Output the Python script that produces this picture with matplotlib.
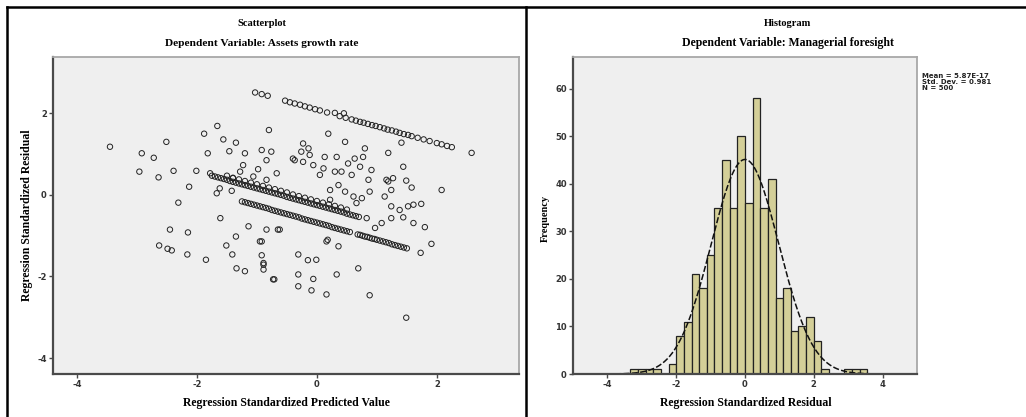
import numpy as np
import matplotlib.pyplot as plt
from matplotlib.lines import Line2D

plt.rcParams['axes.unicode_minus'] = False

# ---- scatterplot data ----
upper_x = [-1.03, -0.92, -0.82, -0.53, -0.45, -0.37, -0.28, -0.20, -0.12, -0.03, 0.05, 0.17,
           0.30, 0.38, 0.45, 0.48, 0.58, 0.65, 0.72, 0.78, 0.85, 0.92, 0.98, 1.05, 1.12, 1.18,
           1.25, 1.32, 1.38, 1.45, 1.52, 1.58, 1.68, 1.78, 1.88, 2.00, 2.08, 2.17, 2.25, 2.58]
upper_y = [2.51, 2.47, 2.43, 2.31, 2.27, 2.24, 2.21, 2.17, 2.14, 2.10, 2.07, 2.02,
           2.01, 1.93, 2.00, 1.89, 1.85, 1.82, 1.79, 1.77, 1.74, 1.71, 1.69, 1.66, 1.63, 1.60,
           1.58, 1.55, 1.52, 1.49, 1.47, 1.44, 1.40, 1.36, 1.32, 1.27, 1.24, 1.20, 1.17, 1.03]

mid_x = [-1.75, -1.70, -1.65, -1.60, -1.55, -1.50, -1.45, -1.40, -1.35, -1.30, -1.25, -1.20,
         -1.15, -1.10, -1.05, -1.00, -0.95, -0.90, -0.85, -0.80, -0.75, -0.70, -0.65, -0.60,
         -0.55, -0.50, -0.45, -0.40, -0.35, -0.30, -0.25, -0.20, -0.15, -0.10, -0.05, 0.00,
         0.05, 0.10, 0.15, 0.20, 0.25, 0.30, 0.35, 0.40, 0.45, 0.50, 0.55, 0.60, 0.65, 0.70,
         -1.50, -1.40, -1.30, -1.20, -1.10, -1.00, -0.90, -0.80, -0.70, -0.60, -0.50, -0.40,
         -0.30, -0.20, -0.10, 0.00, 0.10, 0.20, 0.30, 0.40, 0.50]
mid_y = [0.47, 0.45, 0.43, 0.41, 0.39, 0.37, 0.34, 0.32, 0.30, 0.28, 0.26, 0.24,
         0.22, 0.20, 0.18, 0.16, 0.14, 0.12, 0.10, 0.08, 0.06, 0.04, 0.02, 0.00,
         -0.02, -0.05, -0.07, -0.09, -0.11, -0.13, -0.15, -0.17, -0.19, -0.21, -0.23, -0.25,
         -0.27, -0.29, -0.31, -0.33, -0.35, -0.37, -0.39, -0.41, -0.43, -0.46, -0.48, -0.50, -0.52, -0.54,
         0.47, 0.42, 0.38, 0.34, 0.30, 0.26, 0.22, 0.18, 0.14, 0.10, 0.06, 0.01,
         -0.03, -0.07, -0.11, -0.15, -0.19, -0.23, -0.27, -0.31, -0.36]

low_x = [-1.25, -1.20, -1.15, -1.10, -1.05, -1.00, -0.95, -0.90, -0.85, -0.80, -0.75, -0.70,
         -0.65, -0.60, -0.55, -0.50, -0.45, -0.40, -0.35, -0.30, -0.25, -0.20, -0.15, -0.10,
         -0.05, 0.00, 0.05, 0.10, 0.15, 0.20, 0.25, 0.30, 0.35, 0.40, 0.45, 0.50, 0.55,
         0.68, 0.72, 0.76, 0.80, 0.84, 0.88, 0.92, 0.96, 1.00, 1.05, 1.10, 1.15, 1.20, 1.25,
         1.30, 1.35, 1.40, 1.45, 1.50]
low_y = [-0.16, -0.18, -0.20, -0.22, -0.24, -0.26, -0.28, -0.30, -0.32, -0.34, -0.37, -0.39,
         -0.41, -0.43, -0.45, -0.47, -0.49, -0.51, -0.53, -0.55, -0.58, -0.60, -0.62, -0.64,
         -0.66, -0.68, -0.70, -0.72, -0.74, -0.76, -0.79, -0.81, -0.83, -0.85, -0.87, -0.89, -0.91,
         -0.97, -0.98, -1.00, -1.02, -1.03, -1.05, -1.07, -1.08, -1.10, -1.12, -1.14, -1.16, -1.18, -1.21,
         -1.23, -1.25, -1.27, -1.29, -1.31]

other_x = [-3.45, -2.92, -2.96, -2.72, -2.64, -2.51, -2.39, -2.13, -2.01, -2.31, -1.88, -1.66,
           -1.82, -1.78, -1.56, -1.35, -1.46, -1.20, -1.61, -1.67, -1.42, -2.45, -2.15, -2.63,
           -2.49, -2.42, -2.16, -1.85, -1.51, -1.35, -1.41, -1.34, -1.20, -1.14, -0.92, -0.84,
           -0.92, -0.89, -0.71, -0.80, -0.92, -0.76, -0.84, -1.23, -0.98, -1.06, -0.84, -0.67,
           -1.28, -1.62, -1.40, -0.65,
           0.19, 0.47, 0.80, 1.19, 1.41, -0.23, -0.14, -0.26, -0.12, -0.37, -0.23, -0.06,
           0.13, 0.33, 0.52, 0.63, 0.77, 0.72, 0.91, 0.11, 0.30, 0.05, 0.58, 0.86, 1.16, 1.27,
           1.49, 1.44, 2.08, 1.58, 1.13, 1.24, 1.38, 1.52, 1.61, 1.74, 1.44, 1.61, 1.80, 1.91,
           1.73, 0.88, 0.75, 0.83, 0.97, 1.08, 0.36, 0.47, 0.61, 0.22, 0.16, 0.36, -0.31, -0.15,
           -0.01, -0.31, -0.06, 0.33, -0.31, -0.09, 0.16, 0.69, 0.88, 1.49, -0.73, -0.62, -0.95,
           -0.89, -0.89, 0.18, 1.19, 1.24, 0.41, 0.22, 0.66, 1.24, -0.40]
other_y = [1.18, 1.02, 0.57, 0.91, 0.43, 1.30, 0.59, 0.20, 0.59, -0.19, 1.50, 1.69,
           1.02, 0.53, 1.36, 1.28, 1.07, 1.02, -0.57, 0.04, 0.10, -0.85, -0.92, -1.24,
           -1.32, -1.36, -1.46, -1.59, -1.24, -1.02, -1.46, -1.80, -1.87, -0.77, -1.14, -0.85,
           -1.48, -1.71, -2.07, 1.59, 1.10, 1.06, 0.85, 0.73, 0.63, 0.45, 0.37, 0.53,
           0.57, 0.16, 0.41, -0.85,
           1.50, 1.30, 1.14, 1.03, 1.28, 1.26, 1.14, 1.06, 0.98, 0.85, 0.81, 0.73,
           0.93, 0.93, 0.77, 0.89, 0.93, 0.69, 0.61, 0.65, 0.57, 0.49, 0.49, 0.37, 0.37, 0.41,
           0.35, 0.69, 0.12, 0.18, -0.04, -0.28, -0.37, -0.28, -0.24, -0.22, -0.55, -0.69, -0.79, -1.20,
           -1.42, 0.08, -0.08, -0.57, -0.81, -0.69, 0.24, 0.08, -0.04, 0.12, -1.14, -1.26, -1.46, -1.60,
           -1.59, -1.95, -2.06, -1.95, -2.24, -2.34, -2.44, -1.80, -2.46, -3.01, -2.07, -0.85, -1.14,
           -1.67, -1.83, -1.10, 0.33, 0.12, 0.57, -0.12, -0.20, -0.57, 0.89]

# ---- histogram data (bin counts, bins of width 0.222 starting at -15*w) ----
bin_width = 0.222
first_bin = -15
counts = [1, 1, 1, 1, 0, 2, 8, 11, 21, 18, 25, 35, 45, 35, 50,
          36, 58, 35, 41, 16, 18, 9, 10, 12, 7, 1, 0, 0, 1, 1, 1]
hist_mean = 0.0
hist_sd = 0.981
hist_n = 500

W, H = 1026, 417
fig = plt.figure(figsize=(W / 100, H / 100), dpi=100)
fig.patch.set_facecolor('white')

bg = '#efefef'
dark = '#4a4a4a'
light = '#a8a8a8'
serif = 'Liberation Serif'


def style_axes(ax):
    ax.set_facecolor(bg)
    for s in ['left', 'bottom']:
        ax.spines[s].set_color(dark)
        ax.spines[s].set_linewidth(1.6)
    for s in ['top', 'right']:
        ax.spines[s].set_color(light)
        ax.spines[s].set_linewidth(1.3)
    ax.tick_params(direction='out', length=3, width=1, color=dark, pad=1.5,
                   labelsize=6, labelcolor='#333333')
    for lab in ax.get_xticklabels() + ax.get_yticklabels():
        lab.set_fontweight('bold')


# ---- scatterplot ----
ax1 = fig.add_axes([53 / W, 1 - 374 / H, 466 / W, 317 / H])
xs = upper_x + mid_x + low_x + other_x
ys = upper_y + mid_y + low_y + other_y
ax1.scatter(xs, ys, s=15, facecolors='none', edgecolors='#222222', linewidths=0.7)
ax1.set_xlim(-4.4, 3.37)
ax1.set_ylim(-4.39, 3.38)
ax1.set_xticks([-4, -2, 0, 2])
ax1.set_yticks([-4, -2, 0, 2])
style_axes(ax1)

# ---- histogram ----
ax2 = fig.add_axes([573 / W, 1 - 374 / H, 344 / W, 317 / H])
lefts = [(first_bin + i) * bin_width for i in range(len(counts))]
ax2.bar(lefts, counts, width=bin_width, align='edge', color='#d4cf98',
        edgecolor='#222222', linewidth=0.9)
xc = np.linspace(-5, 5, 400)
pdf = hist_n * bin_width / (hist_sd * np.sqrt(2 * np.pi)) * np.exp(-0.5 * ((xc - hist_mean) / hist_sd) ** 2)
ax2.plot(xc, pdf, color='#111111', lw=1.1, linestyle=(0, (4, 1.5)))
ax2.set_xlim(-5, 5)
ax2.set_ylim(0, 66.7)
ax2.set_xticks([-4, -2, 0, 2, 4])
ax2.set_yticks([0, 10, 20, 30, 40, 50, 60])
style_axes(ax2)

# ---- titles and labels ----
fig.text(262 / W, 1 - 23 / H, 'Scatterplot', ha='center', va='center',
         family=serif, fontweight='bold', fontsize=7.5)
fig.text(262 / W, 1 - 43 / H, 'Dependent Variable: Assets growth rate', ha='center', va='center',
         family=serif, fontweight='bold', fontsize=8.2)
fig.text(286 / W, 1 - 403 / H, 'Regression Standardized Predicted Value', ha='center', va='center',
         family=serif, fontweight='bold', fontsize=8.5)
fig.text(27 / W, 1 - 215 / H, 'Regression Standardized Residual', ha='center', va='center',
         rotation=90, family=serif, fontweight='bold', fontsize=8.5)

fig.text(788 / W, 1 - 23 / H, 'Histogram', ha='center', va='center',
         family=serif, fontweight='bold', fontsize=7.5)
fig.text(788 / W, 1 - 43 / H, 'Dependent Variable: Managerial foresight', ha='center', va='center',
         family=serif, fontweight='bold', fontsize=8.5)
fig.text(746 / W, 1 - 403 / H, 'Regression Standardized Residual', ha='center', va='center',
         family=serif, fontweight='bold', fontsize=8.5)
fig.text(545 / W, 1 - 218 / H, 'Frequency', ha='center', va='center',
         rotation=90, family=serif, fontweight='bold', fontsize=7.5)

stats = 'Mean = 5.87E-17\nStd. Dev. = 0.981\nN = 500'
fig.text(922 / W, 1 - 73 / H, stats, ha='left', va='top', fontsize=5,
         fontweight='bold', linespacing=1.0, color='#222222')

# panel borders
for (x0, y0, x1, y1) in [(7, 7, W, 7), (7, 7, 7, H), (526, 7, 526, H)]:
    fig.add_artist(Line2D([x0 / W, x1 / W], [1 - y0 / H, 1 - y1 / H],
                          transform=fig.transFigure, color='black', lw=1.8))

fig.savefig('out.png', dpi=100)
